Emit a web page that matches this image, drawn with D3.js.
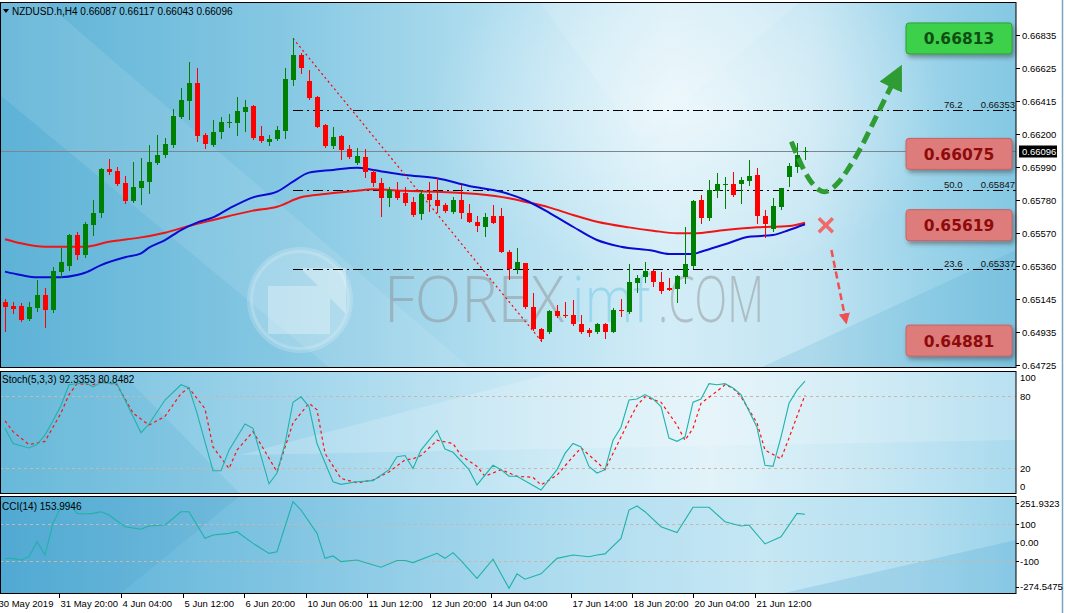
<!DOCTYPE html>
<html><head><meta charset="utf-8">
<script src="https://cdn.jsdelivr.net/npm/d3@7"></script>
<style>
body{margin:0;background:#fff;}
svg{display:block;font-family:"Liberation Sans",Arial,sans-serif;}
</style></head><body>
<svg id="c" width="1066" height="613"></svg>
<script>
// ---------------- DATA ----------------
const symbolTitle = "NZDUSD.h,H4";
const lastOHLC = [0.66087, 0.66117, 0.66043, 0.66096];
const openP = [0.65130,0.65102,0.65102,0.65019,0.65091,0.65173,0.65077,0.65322,0.65360,0.65556,0.65428,0.65620,0.65699,0.65976,0.65965,0.65887,0.65774,0.65859,0.65897,0.66018,0.66068,0.66132,0.66313,0.66413,0.66530,0.66196,0.66132,0.66213,0.66272,0.66274,0.66345,0.66383,0.66189,0.66153,0.66170,0.66221,0.66547,0.66707,0.66541,0.66440,0.66260,0.66125,0.66191,0.66106,0.66015,0.66053,0.65961,0.65891,0.65795,0.65839,0.65827,0.65769,0.65690,0.65818,0.65780,0.65748,0.65705,0.65780,0.65695,0.65641,0.65605,0.65678,0.65678,0.65449,0.65337,0.65375,0.65094,0.64953,0.64938,0.65070,0.65045,0.65045,0.64987,0.64949,0.64938,0.64987,0.64938,0.65077,0.65066,0.65251,0.65290,0.65326,0.65258,0.65215,0.65209,0.65290,0.65360,0.65780,0.65663,0.65839,0.65876,0.65882,0.65882,0.65903,0.65940,0.65678,0.65593,0.65733,0.65925,0.65993,0.66087];
const highP = [0.65147,0.65130,0.65121,0.65130,0.65268,0.65217,0.65354,0.65473,0.65560,0.65575,0.65641,0.65780,0.65985,0.66042,0.65993,0.65933,0.66021,0.66047,0.66132,0.66196,0.66175,0.66362,0.66494,0.66664,0.66622,0.66206,0.66292,0.66313,0.66328,0.66440,0.66419,0.66387,0.66255,0.66196,0.66255,0.66626,0.66813,0.66718,0.66611,0.66447,0.66264,0.66249,0.66196,0.66132,0.66111,0.66104,0.65972,0.65919,0.65865,0.65897,0.65865,0.65801,0.65844,0.65897,0.65919,0.65763,0.65797,0.65876,0.65754,0.65678,0.65699,0.65748,0.65727,0.65458,0.65471,0.65379,0.65183,0.64959,0.65076,0.65109,0.65130,0.65141,0.65045,0.64959,0.64995,0.64995,0.65087,0.65145,0.65371,0.65300,0.65385,0.65332,0.65321,0.65279,0.65300,0.65609,0.65778,0.65812,0.65908,0.65955,0.65929,0.65957,0.65929,0.66036,0.65987,0.65716,0.65791,0.65858,0.66018,0.66143,0.66117];
const lowP = [0.64944,0.65055,0.65006,0.65013,0.65072,0.64970,0.65066,0.65290,0.65332,0.65403,0.65417,0.65556,0.65673,0.65944,0.65878,0.65763,0.65765,0.65753,0.65827,0.66012,0.66057,0.66121,0.66302,0.66298,0.66157,0.66111,0.66128,0.66176,0.66247,0.66196,0.66221,0.66170,0.66153,0.66132,0.66164,0.66175,0.66515,0.66590,0.66426,0.66247,0.66120,0.66111,0.66040,0.66047,0.66010,0.65925,0.65870,0.65680,0.65742,0.65788,0.65748,0.65678,0.65657,0.65712,0.65705,0.65705,0.65699,0.65663,0.65638,0.65584,0.65550,0.65631,0.65445,0.65273,0.65311,0.65090,0.64949,0.64881,0.64932,0.65030,0.65034,0.64981,0.64928,0.64910,0.64932,0.64896,0.64935,0.65038,0.65055,0.65194,0.65258,0.65232,0.65187,0.65203,0.65130,0.65251,0.65343,0.65631,0.65652,0.65797,0.65727,0.65806,0.65759,0.65876,0.65631,0.65542,0.65582,0.65720,0.65870,0.65961,0.66043];
const closeP = [0.65098,0.65083,0.65013,0.65094,0.65173,0.65077,0.65326,0.65385,0.65556,0.65428,0.65627,0.65695,0.65980,0.65961,0.65882,0.65774,0.65861,0.65901,0.66021,0.66068,0.66136,0.66317,0.66419,0.66530,0.66189,0.66138,0.66215,0.66281,0.66279,0.66349,0.66377,0.66178,0.66157,0.66170,0.66228,0.66554,0.66707,0.66622,0.66430,0.66249,0.66125,0.66185,0.66100,0.66053,0.66061,0.65961,0.65887,0.65795,0.65844,0.65791,0.65763,0.65684,0.65818,0.65780,0.65742,0.65710,0.65780,0.65699,0.65641,0.65614,0.65669,0.65635,0.65449,0.65337,0.65385,0.65094,0.64953,0.64889,0.65070,0.65040,0.65040,0.64985,0.64938,0.64928,0.64987,0.64934,0.65077,0.65070,0.65254,0.65283,0.65326,0.65258,0.65200,0.65205,0.65294,0.65371,0.65774,0.65667,0.65844,0.65882,0.65882,0.65812,0.65908,0.65933,0.65680,0.65627,0.65742,0.65855,0.65997,0.66068,0.66096];

// moving averages [barIndex, price]
const maBlue = [[0,0.65322],[2,0.65300],[4,0.65286],[7,0.65286],[9,0.65300],[10,0.65315],[12,0.65364],[15,0.65414],[17,0.65439],[18,0.65475],[20,0.65524],[22,0.65588],[24,0.65635],[26,0.65669],[28,0.65725],[31,0.65797],[34,0.65833],[36,0.65897],[38,0.65955],[41,0.65972],[44,0.65987],[46,0.65972],[50,0.65940],[54,0.65919],[58,0.65870],[62,0.65833],[65,0.65780],[68,0.65700],[71,0.65609],[74,0.65524],[77,0.65481],[81,0.65455],[83,0.65435],[86,0.65435],[87,0.65449],[90,0.65497],[93,0.65545],[96,0.65556],[98,0.65588],[100,0.65625]];
const maRed = [[0,0.65529],[2,0.65503],[5,0.65481],[10,0.65481],[13,0.65513],[17,0.65541],[20,0.65571],[23,0.65614],[26,0.65652],[31,0.65712],[34,0.65737],[37,0.65797],[40,0.65818],[44,0.65839],[46,0.65848],[50,0.65839],[54,0.65833],[59,0.65818],[63,0.65791],[65,0.65769],[68,0.65733],[71,0.65684],[74,0.65641],[78,0.65605],[81,0.65584],[84,0.65567],[86,0.65567],[90,0.65588],[94,0.65605],[98,0.65614],[100,0.65635]];

// stochastic (5,3,3)
const stochMain = [[0,53.2],[1,40.6],[3,36.9],[4,39.7],[5,47.8],[6,59.5],[7,72.2],[8,89.4],[9,90.3],[10,91.2],[11,87.6],[12,91.2],[14,90.3],[15,76.7],[17,49.6],[18,56.8],[20,76.7],[22,89.4],[23,86.7],[24,65.9],[26,18],[27,18],[28,35.1],[30,56.8],[31,53.2],[33,7.1],[34,16.1],[35,40.6],[36,74.9],[37,79.4],[38,71.3],[39,40.6],[41,8.9],[42,6.7],[44,8.9],[46,9.8],[48,18.9],[49,29.7],[50,30.6],[51,19.8],[52,35.1],[54,51.4],[55,36],[56,33.3],[58,18.9],[59,6.2],[61,22.5],[62,18.9],[63,13.4],[64,13.4],[67,2],[69,18.9],[70,32.4],[71,40.6],[72,37.8],[73,21.6],[74,16.1],[75,18.9],[76,43.3],[77,54.1],[78,76.7],[79,77.6],[80,81.2],[81,77.6],[82,71.3],[83,45.1],[84,42.4],[85,46],[86,74.9],[87,77.6],[88,90.3],[89,89.4],[90,90.3],[91,86.7],[92,81.2],[94,54.1],[95,22.5],[96,21.6],[97,46],[98,74],[99,84.9],[100,92.3353]];
const stochSignal = [[0,59.5],[1,50.5],[3,39.7],[5,42.4],[7,65.9],[8,81.2],[9,90.3],[11,89.4],[12,92.1],[14,89.4],[16,65.9],[18,55.9],[20,63.2],[22,82.1],[23,86.7],[25,69.5],[26,37.8],[28,19.8],[29,35.1],[31,50.5],[32,39.7],[34,17],[36,57.7],[38,74],[39,68.6],[40,32.4],[42,11.6],[44,8],[46,10.3],[48,17],[50,27],[51,27.9],[52,30.6],[54,43.3],[56,40.6],[57,30.6],[59,21.6],[60,13.4],[62,18.9],[64,13.4],[66,12.5],[67,6.2],[69,14.3],[71,29.7],[72,36.9],[74,25.2],[75,18.9],[76,32.4],[78,59.5],[79,72.2],[80,79.4],[82,74.9],[84,55.9],[85,43.3],[86,53.2],[87,74],[89,84],[90,89.4],[91,86.7],[92,79.4],[94,57.7],[95,35.1],[97,27.9],[98,45.1],[99,63.2],[100,80.8482]];
// CCI(14)
const cci = [[0,-85],[1,-84],[2,-93],[3,-75],[4,6],[5,-66],[6,105],[7,195],[8,223],[9,159],[10,156],[11,159],[12,168],[13,150],[15,87],[17,73],[18,91],[20,96],[22,168],[23,168],[25,24],[26,42],[28,51],[29,60],[31,-3],[33,-57],[34,-48],[36,223],[37,177],[39,51],[40,-84],[41,-71],[42,-102],[44,-93],[45,-107],[47,-132],[49,-96],[50,-96],[51,-107],[54,-57],[55,-84],[56,-53],[57,-96],[59,-192],[61,-89],[63,-246],[64,-168],[65,-197],[67,-168],[69,-84],[71,-66],[73,-75],[74,-66],[75,-60],[77,24],[78,177],[79,199],[80,168],[82,87],[84,55],[86,192],[88,192],[90,114],[92,91],[93,96],[95,-6],[97,33],[99,159],[100,153.9946]];

// axis ticks
const priceTicks = [0.66835,0.66625,0.66415,0.66200,0.65990,0.65780,0.65570,0.65360,0.65145,0.64935,0.64725];
const priceTickLabels = ["0.66835","0.66625","0.66415","0.66200","0.65990","0.65780","0.65570","0.65360","0.65145","0.64935","0.64725"];
const timeLabels = ["30 May 2019","31 May 20:00","4 Jun 04:00","5 Jun 12:00","6 Jun 20:00","10 Jun 06:00","11 Jun 12:00","12 Jun 20:00","14 Jun 04:00","17 Jun 14:00","18 Jun 20:00","20 Jun 04:00","21 Jun 12:00"];
const timeTickIdx = [-1, 6.8, 14.5, 22.2, 29.9, 37.6, 45.3, 53.1, 60.8, 70.7, 78.4, 86.0, 93.8];

// fibonacci (0 = low, 100 = high)
const fibLow = {i:67, p:0.64881}, fibHigh = {i:36, p:0.66813};
const fibLevels = [23.6, 50.0, 76.2];
const fibLabels = ["0.65337","0.65847","0.66353"];
// key levels boxes
const levels = [0.66813, 0.66075, 0.65619, 0.64881];
const levelLabels = ["0.66813","0.66075","0.65619","0.64881"];
const levelKind = ["up","res","res","sup"];
// annotation drawings [barIndex, price]
const greenPath = [[98.3,0.66153],[99.4,0.66017],[100.6,0.65897],[101.9,0.65833],[102.7,0.65827],[104,0.65876],[105.2,0.65961],[106.9,0.66100],[108.5,0.66272],[111.0,0.66530]];
const redArrow = [[103.3,0.65460],[105.0,0.65034]];
const crossAt = [102.6, 0.65619];
const watermark = [["FOREX","#8a8a8a",0.45,384,180],["imf","#7fcbe8",0.6,572,78],[".COM","#8a8a8a",0.45,658,106]];

// ---------------- CHART ----------------
const svg = d3.select('#c');
const PR = 1016; // right edge of plotting area
const M = {top:2, bot:368}, S = {top:371, bot:494}, C = {top:496, bot:594};
const x = d3.scaleLinear().domain([0,100]).range([5,805]);
const y = d3.scaleLinear().domain([0.64725,0.66835]).range([365,35]);
const ys = d3.scaleLinear().domain([0,100]).range([492.4,372]);
const yc = d3.scaleLinear().domain([-100,100]).range([561.3,524.3]);

const defs = svg.append('defs');
function lg(id, stops, x2=1, y2=0){
  const g = defs.append('linearGradient').attr('id',id).attr('x1',0).attr('y1',0).attr('x2',x2).attr('y2',y2);
  stops.forEach(s=>g.append('stop').attr('offset',s[0]).attr('stop-color',s[1]).attr('stop-opacity',s[2]==null?1:s[2]));
}
lg('bgMain',[[0,'#5db2d6'],[0.28,'#86c8e3'],[0.5,'#b4dff0'],[0.66,'#d3edf7'],[0.8,'#c2e4f2'],[0.92,'#98d2e9'],[1,'#84c8e3']]);
lg('bgStoch',[[0,'#6fbddd'],[0.3,'#a3d6ec'],[0.55,'#cfebf6'],[0.7,'#e2f3f9'],[0.85,'#c9e8f4'],[1,'#a9daee']]);
lg('bgCci',[[0,'#55aed6'],[0.3,'#84c6e3'],[0.55,'#aedcef'],[0.75,'#c6e7f4'],[0.9,'#b4dff0'],[1,'#9ad3ea']]);
const rg = defs.append('radialGradient').attr('id','glare').attr('cx',0.5).attr('cy',0.5).attr('r',0.5);
rg.append('stop').attr('offset',0).attr('stop-color','#fff').attr('stop-opacity',0.55);
rg.append('stop').attr('offset',1).attr('stop-color','#fff').attr('stop-opacity',0);
const f = defs.append('filter').attr('id','sh').attr('x','-10%').attr('y','-50%').attr('width','120%').attr('height','250%');
f.append('feDropShadow').attr('dx',1).attr('dy',4).attr('stdDeviation',2).attr('flood-color','#444').attr('flood-opacity',0.45);
const fb = defs.append('filter').attr('id','shb').attr('x','-20%').attr('y','-30%').attr('width','140%').attr('height','170%');
fb.append('feDropShadow').attr('dx',2).attr('dy',3).attr('stdDeviation',2).attr('flood-color','#333').attr('flood-opacity',0.45);
['clipM','clipS','clipC'].forEach((id,k)=>{
  const r=[M,S,C][k];
  defs.append('clipPath').attr('id',id).append('rect').attr('x',0).attr('y',r.top).attr('width',PR).attr('height',r.bot-r.top);
});
// markers
defs.append('marker').attr('id','mGreen').attr('viewBox','0 0 10 10').attr('refX',2).attr('refY',5)
  .attr('markerWidth',5).attr('markerHeight',5).attr('orient','auto').attr('markerUnits','strokeWidth')
  .append('path').attr('d','M0,0 L10,5 L0,10 Z').attr('fill','#2e9b33');
defs.append('marker').attr('id','mRed').attr('viewBox','0 0 10 10').attr('refX',3).attr('refY',5)
  .attr('markerWidth',4.5).attr('markerHeight',4.5).attr('orient','auto').attr('markerUnits','strokeWidth')
  .append('path').attr('d','M0,0 L10,5 L0,10 Z').attr('fill','#f05050');

// panel backgrounds
svg.append('rect').attr('x',0).attr('y',0).attr('width',1066).attr('height',613).attr('fill','#fff');
const gm = svg.append('g').attr('clip-path','url(#clipM)');
gm.append('rect').attr('x',0).attr('y',M.top).attr('width',PR).attr('height',M.bot-M.top).attr('fill','url(#bgMain)');
gm.append('polygon').attr('points',`0,${M.top} 45,${M.top} 470,${M.bot} 330,${M.bot} 0,95`).attr('fill','#fff').attr('opacity',0.10);
gm.append('ellipse').attr('cx',690).attr('cy',110).attr('rx',260).attr('ry',170).attr('fill','url(#glare)');
gm.append('polygon').attr('points',`760,${M.bot} ${PR},250 ${PR},${M.bot}`).attr('fill','#4aa6cf').attr('opacity',0.18);
gm.append('polygon').attr('points',`540,${M.top} 800,${M.top} 640,140`).attr('fill','#fff').attr('opacity',0.12);

const gs = svg.append('g').attr('clip-path','url(#clipS)');
gs.append('rect').attr('x',0).attr('y',S.top).attr('width',PR).attr('height',S.bot-S.top).attr('fill','url(#bgStoch)');
gs.append('polygon').attr('points',`0,${S.top} 120,${S.top} 240,${S.bot} 0,${S.bot}`).attr('fill','#3f9fcb').attr('opacity',0.15);
gs.append('polygon').attr('points',`240,455 560,${S.top} 1016,${S.top} 1016,440`).attr('fill','#fff').attr('opacity',0.18);

const gc = svg.append('g').attr('clip-path','url(#clipC)');
gc.append('rect').attr('x',0).attr('y',C.top).attr('width',PR).attr('height',C.bot-C.top).attr('fill','url(#bgCci)');
gc.append('polygon').attr('points',`0,${C.bot} 0,${C.top} 240,${C.top} 120,${C.bot}`).attr('fill','#2f8fc0').attr('opacity',0.12);
gc.append('polygon').attr('points',`780,${C.bot} 1016,540 1016,${C.bot}`).attr('fill','#3c9ccb').attr('opacity',0.2);

// watermark
const wm = gm.append('g');
wm.append('circle').attr('cx',300).attr('cy',300).attr('r',50).attr('fill','#fff').attr('opacity',0.2);
wm.append('circle').attr('cx',300).attr('cy',300).attr('r',50).attr('fill','none').attr('stroke','#fff').attr('stroke-width',6).attr('opacity',0.18);
wm.append('path').attr('d','M268,334 L268,286 L318,286 L300,268 L346,268 L346,314 L330,298 L330,334 Z').attr('fill','#fff').attr('opacity',0.3);
watermark.forEach(d=>{
  const g = wm.append('g');
  const t = g.append('text').attr('x',0).attr('y',0).attr('font-size',64).attr('font-family','"Open Sans",sans-serif')
    .attr('font-weight',300).attr('fill',d[1]).attr('fill-opacity',d[2]).text(d[0]);
  const len = t.node().getComputedTextLength() || d[4];
  g.attr('transform',`translate(${d[3]},322) scale(${d[4]/len},1)`);
});

// fib dash-dot lines
fibLevels.forEach((lv,k)=>{
  const p = fibLow.p + (fibHigh.p-fibLow.p)*lv/100;
  const yy = Math.round(y(p))+0.5;
  gm.append('line').attr('x1',x(fibHigh.i)).attr('x2',PR).attr('y1',yy).attr('y2',yy)
    .attr('stroke','#000').attr('stroke-width',1).attr('stroke-dasharray','10,4,2,4');
  gm.append('text').attr('x',944).attr('y',yy-3).attr('font-size',9.5).attr('fill','#111').text(lv.toFixed(1));
  gm.append('text').attr('x',1015).attr('y',yy-3).attr('font-size',9.5).attr('fill','#111').attr('text-anchor','end').text(fibLabels[k]);
});
// current price line
const yLast = Math.round(y(lastOHLC[3]))+0.5;
gm.append('line').attr('x1',0).attr('x2',PR).attr('y1',yLast).attr('y2',yLast).attr('stroke','#7b8790').attr('stroke-width',1);

// moving averages
const lineIdx = d3.line().x(d=>x(d[0])).y(d=>y(d[1])).curve(d3.curveMonotoneX);
gm.append('path').attr('d',lineIdx(maRed)).attr('fill','none').attr('stroke','#f01414').attr('stroke-width',2);
gm.append('path').attr('d',lineIdx(maBlue)).attr('fill','none').attr('stroke','#0a0ad2').attr('stroke-width',2);

// fib trend line (red dotted)
gm.append('line').attr('x1',x(fibHigh.i)).attr('y1',y(fibHigh.p)).attr('x2',x(fibLow.i)).attr('y2',y(fibLow.p))
  .attr('stroke','#f00').attr('stroke-width',1.2).attr('stroke-dasharray','2,3');

// candles
const cg = gm.append('g');
openP.forEach((o,i)=>{
  const c = closeP[i], h = highP[i], l = lowP[i];
  const up = c >= o;
  const col = up ? '#008000' : '#ff0000';
  const cx = Math.round(x(i))+0.5;
  cg.append('line').attr('x1',cx).attr('x2',cx).attr('y1',Math.round(y(h))).attr('y2',Math.round(y(l))+1)
    .attr('stroke',col).attr('stroke-width',1);
  const t = Math.round(y(Math.max(o,c))), b = Math.round(y(Math.min(o,c)));
  cg.append('rect').attr('x',cx-2.5).attr('y',t).attr('width',5).attr('height',Math.max(1,b-t)).attr('fill',col);
});

// level lines + boxes
levels.forEach((p,k)=>{
  const yy = y(p);
  const green = levelKind[k]==='up';
  const x0 = green ? x(fibHigh.i) : x(fibHigh.i)+2;
  gm.append('line').attr('x1',x0).attr('x2',906).attr('y1',yy).attr('y2',yy)
    .attr('stroke',green?'#2ea636':'#ff4a4a').attr('stroke-width',3).attr('filter','url(#sh)');
});
levels.forEach((p,k)=>{
  const yy = y(p);
  const green = levelKind[k]==='up';
  const g = svg.append('g');
  g.append('rect').attr('x',906).attr('y',yy-15.5).attr('width',106).attr('height',31).attr('rx',3)
    .attr('fill',green?'#3dd04b':'#de7b7b').attr('stroke',green?'#2aa236':'#c56464').attr('stroke-width',1).attr('filter','url(#shb)');
  g.append('text').attr('x',959).attr('y',yy+6).attr('text-anchor','middle').attr('font-family','"DejaVu Sans",sans-serif')
    .attr('font-weight','bold').attr('font-size',15.5).attr('fill',green?'#0d4f12':'#8e0b0b').text(levelLabels[k]);
});

// annotations
const lineRaw = d3.line().x(d=>x(d[0])).y(d=>y(d[1])).curve(d3.curveBasis);
gm.append('path').attr('d',lineRaw(greenPath)).attr('fill','none').attr('stroke','#2e9b33').attr('stroke-width',5)
  .attr('stroke-dasharray','12,6').attr('marker-end','url(#mGreen)');
gm.append('path').attr('d',d3.line().x(d=>x(d[0])).y(d=>y(d[1]))(redArrow)).attr('fill','none').attr('stroke','#f05050')
  .attr('stroke-width',2.5).attr('stroke-dasharray','7,4').attr('marker-end','url(#mRed)');
const cxX = x(crossAt[0]), cyX = y(crossAt[1]);
[[-7,-7,7,7],[-7,7,7,-7]].forEach(d=>gm.append('line').attr('x1',cxX+d[0]).attr('y1',cyX+d[1]).attr('x2',cxX+d[2]).attr('y2',cyX+d[3])
  .attr('stroke','#f06a6a').attr('stroke-width',3.5));

// header
svg.append('path').attr('d','M3,9 L9,9 L6,13 Z').attr('fill','#000');
svg.append('text').attr('x',12).attr('y',15).attr('font-size',10).attr('fill','#000')
  .text(symbolTitle+'  '+lastOHLC.map(v=>v.toFixed(5)).join(' '));

// ---- stochastic panel
[80,20].forEach(v=>gs.append('line').attr('x1',0).attr('x2',PR).attr('y1',Math.round(ys(v))+0.5).attr('y2',Math.round(ys(v))+0.5)
  .attr('stroke','#c7b7ad').attr('stroke-dasharray','3,3'));
const ls = d3.line().x(d=>x(d[0])).y(d=>ys(d[1]));
gs.append('path').attr('d',ls(stochSignal)).attr('fill','none').attr('stroke','#ff1010').attr('stroke-width',1.2).attr('stroke-dasharray','3,3');
gs.append('path').attr('d',ls(stochMain)).attr('fill','none').attr('stroke','#20b2aa').attr('stroke-width',1.1);
gs.append('text').attr('x',2).attr('y',383).attr('font-size',10).attr('fill','#000')
  .text('Stoch(5,3,3) '+stochMain[stochMain.length-1][1].toFixed(4)+' '+stochSignal[stochSignal.length-1][1].toFixed(4));

// ---- CCI panel
[100,-100].forEach(v=>gc.append('line').attr('x1',0).attr('x2',PR).attr('y1',Math.round(yc(v))+0.5).attr('y2',Math.round(yc(v))+0.5)
  .attr('stroke','#c7b7ad').attr('stroke-dasharray','3,3'));
gc.append('path').attr('d',d3.line().x(d=>x(d[0])).y(d=>yc(d[1]))(cci)).attr('fill','none').attr('stroke','#20b2aa').attr('stroke-width',1.1);
gc.append('text').attr('x',2).attr('y',510).attr('font-size',10).attr('fill','#000')
  .text('CCI(14) '+cci[cci.length-1][1].toFixed(4));

// panel borders
[[M.top,M.bot],[S.top,S.bot],[C.top,C.bot]].forEach(r=>{
  svg.append('rect').attr('x',0.5).attr('y',r[0]+0.5).attr('width',PR-0.5).attr('height',r[1]-r[0]-1)
    .attr('fill','none').attr('stroke','#000').attr('stroke-width',1);
});
svg.append('line').attr('x1',1062.5).attr('x2',1062.5).attr('y1',0).attr('y2',613).attr('stroke','#7aa6c2').attr('stroke-width',1.5);

// price axis
const ax = svg.append('g').attr('font-size',9.5).attr('fill','#000');
priceTicks.forEach((p,k)=>{
  const yy = Math.round(y(p))+0.5;
  ax.append('line').attr('x1',PR).attr('x2',PR+4).attr('y1',yy).attr('y2',yy).attr('stroke','#000');
  ax.append('text').attr('x',1022).attr('y',yy+3.5).text(priceTickLabels[k]);
});
ax.append('rect').attr('x',1019).attr('y',yLast-6).attr('width',38).attr('height',12).attr('fill','#000');
ax.append('text').attr('x',1022).attr('y',yLast+3.5).attr('fill','#fff').text(lastOHLC[3].toFixed(5));
// stoch axis
[[100,5],[80,0],[20,0],[0,-6]].forEach(d=>{
  const yy = Math.round(ys(d[0]))+0.5;
  ax.append('text').attr('x',1020).attr('y',yy+d[1]+3.5).text(String(d[0]));
});
// cci axis
[[251.9323,'251.9323'],[100,'100'],[0,'0.00'],[-100,'-100'],[-274.5475,'-274.5475']].forEach(d=>{
  let yy = yc(d[0]);
  if(d[0]>200) yy += 7; if(d[0]<-200) yy -= 7;
  ax.append('line').attr('x1',PR).attr('x2',PR+3).attr('y1',Math.round(yy)+0.5).attr('y2',Math.round(yy)+0.5).attr('stroke','#000');
  ax.append('text').attr('x',1020).attr('y',yy+3.5).text(d[1]);
});
// time axis
timeLabels.forEach((t,k)=>{
  const xx = Math.round(x(timeTickIdx[k]))+0.5;
  ax.append('line').attr('x1',xx).attr('x2',xx).attr('y1',C.bot).attr('y2',C.bot+4).attr('stroke','#000');
  ax.append('text').attr('x',xx+1).attr('y',607).text(t);
});
</script>
</body></html>
